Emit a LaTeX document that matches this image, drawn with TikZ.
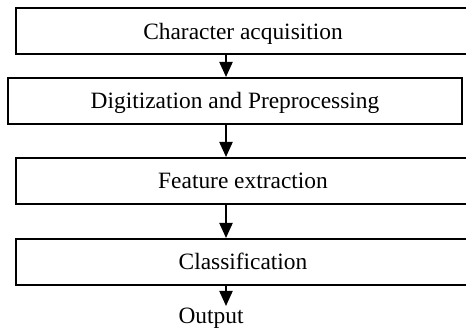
\documentclass[tikz,border=0pt]{standalone}
\usepackage{fontspec}
\setmainfont{Liberation Serif}
\usetikzlibrary{arrows.meta}

\tikzset{
  etapa/.style={draw, line width=1pt, minimum width=227pt, minimum height=23pt,
                inner sep=0pt, text height=7.7pt, text depth=0pt,
                font=\fontsize{11.7}{14}\selectfont},
  flecha/.style={line width=1pt, -{Triangle[width=6.5pt,length=7.5pt]}}
}

\begin{document}
\begin{tikzpicture}[x=0.5pt, y=-0.5pt]
    % Marco de la figura
    \useasboundingbox (0,0) rectangle (466,331);

    % Cajas de las etapas
    \node[etapa] (adq)   at (243,31.5) {Character acquisition};
    \node[etapa] (dig)   at (235,101)  {Digitization and Preprocessing};
    \node[etapa] (carac) at (243,181)  {Feature extraction};
    \node[etapa] (clas)  at (243,262)  {Classification};

    % Salida
    \node[font=\fontsize{11.7}{14}\selectfont, inner sep=0pt, text height=7.7pt,
          text depth=0pt] (salida) at (211,316) {Output};

    % Eje de las flechas
    \coordinate (eje) at (226,0);
    \coordinate (fin) at (226,306);

    % Flechas entre etapas
    \draw[flecha] (adq.south -| eje) -- (dig.north -| eje);
    \draw[flecha] (dig.south -| eje) -- (carac.north -| eje);
    \draw[flecha] (carac.south -| eje) -- (clas.north -| eje);
    \draw[flecha] (clas.south -| eje) -- (fin);
\end{tikzpicture}
\end{document}
